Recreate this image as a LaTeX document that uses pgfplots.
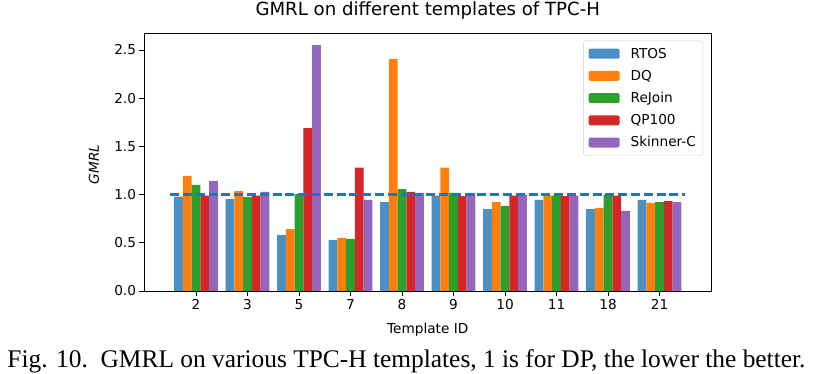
\documentclass[border=0pt]{standalone}
\usepackage{pgfplots}
\pgfplotsset{compat=1.18}
\usepackage{fontspec}
\setmainfont{DejaVu Sans}
\newfontfamily\capfont{Liberation Serif}
\definecolor{cA}{HTML}{4A90C4}
\definecolor{cB}{HTML}{FF7F0E}
\definecolor{cC}{HTML}{2CA02C}
\definecolor{cD}{HTML}{D62728}
\definecolor{cE}{HTML}{9467BD}
\definecolor{cL}{HTML}{1F77B4}
\begin{document}
\begin{tikzpicture}
\useasboundingbox (-144.5bp,-83bp) rectangle (674.5bp,291bp);
\begin{axis}[
  at={(0,0)}, anchor=south west,
  scale only axis, width=566.5bp, height=258bp,
  xmin=-1, xmax=10, ymin=0, ymax=2.676,
  ybar, bar width=0.17,
  xtick={0,...,9}, xticklabels={2,3,5,7,8,9,10,11,18,21},
  ytick={0,0.5,1,1.5,2,2.5}, yticklabels={0.0,0.5,1.0,1.5,2.0,2.5},
  /pgf/number format/assume math mode=true,
  tick label style={font=\fontsize{13.7}{16}\selectfont, text=black},
  tick align=outside, xtick pos=bottom, ytick pos=left,
  major tick length=5bp,
  tick style={black, line width=0.9bp},
  axis line style={black, line width=0.9bp},
  title={GMRL on different templates of TPC-H},
  title style={at={(axis description cs:0.5,1)}, anchor=base, yshift=11.3bp, font=\fontsize{18.2}{21}\selectfont},
  xlabel={Template ID},
  xlabel style={at={(axis description cs:0.5,0)}, anchor=base, yshift=-42bp, font=\fontsize{13.7}{16}\selectfont},
  ylabel={\itshape GMRL},
  ylabel style={at={(axis description cs:-0.0891,0.49)}, anchor=center, font=\fontsize{13.7}{16}\selectfont},
  legend style={at={(axis description cs:0.986,0.970)}, anchor=north east,
    draw=black!20, rounded corners=2bp, fill=white,
    font=\fontsize{13.7}{16}\selectfont, row sep=6.5bp, inner xsep=5bp, inner ysep=5bp},
  legend cell align=left,
  legend image code/.code={\fill[#1] (0bp,-5bp) rectangle (31bp,5bp); \path (40bp,0bp);},
]
\addplot[draw=none, fill=cA, bar shift=-0.34] coordinates {(0,0.978) (1,0.954) (2,0.581) (3,0.53) (4,0.923) (5,0.99) (6,0.85) (7,0.944) (8,0.85) (9,0.944)};
\addplot[draw=none, fill=cB, bar shift=-0.17] coordinates {(0,1.193) (1,1.037) (2,0.643) (3,0.55) (4,2.405) (5,1.28) (6,0.923) (7,0.99) (8,0.861) (9,0.913)};
\addplot[draw=none, fill=cC, bar shift=0] coordinates {(0,1.10) (1,0.975) (2,1.005) (3,0.54) (4,1.057) (5,1.017) (6,0.882) (7,0.99) (8,1.0) (9,0.923)};
\addplot[draw=none, fill=cD, bar shift=0.17] coordinates {(0,0.99) (1,0.99) (2,1.69) (3,1.28) (4,1.027) (5,0.985) (6,0.99) (7,0.985) (8,0.99) (9,0.933)};
\addplot[draw=none, fill=cE, bar shift=0.34] coordinates {(0,1.141) (1,1.027) (2,2.55) (3,0.944) (4,1.017) (5,1.017) (6,1.0) (7,0.99) (8,0.83) (9,0.923)};
\legend{RTOS,DQ,ReJoin,QP100,Skinner-C}
\addplot[sharp plot, no markers, cL, line width=2.2bp, dash pattern=on 9bp off 3.8bp, forget plot] coordinates {(-0.5,1) (9.5,1)};
\end{axis}
\node[anchor=base, font=\capfont\fontsize{25.5}{28}\selectfont] at (262bp,-76.5bp) {Fig. 10.\ \ GMRL on various TPC-H templates, 1 is for DP, the lower the better.};
\end{tikzpicture}
\end{document}
